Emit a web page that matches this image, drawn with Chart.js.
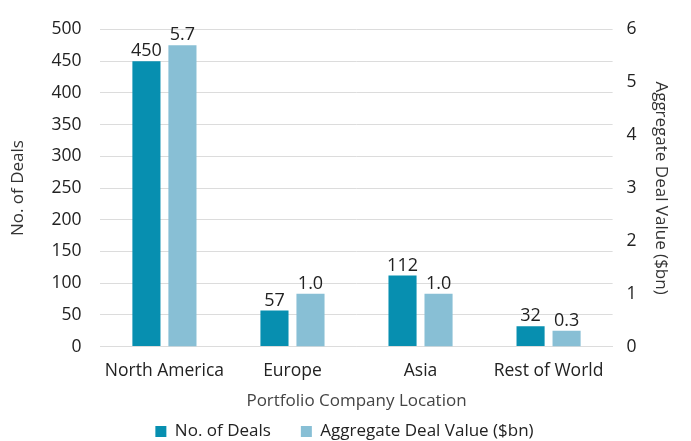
<!DOCTYPE html>
<html>
<head>
<meta charset="utf-8">
<script src="https://cdn.jsdelivr.net/npm/chart.js@4/dist/chart.umd.min.js"></script>
<style>
  html, body { margin: 0; padding: 0; background: #fff; }
  #wrap { width: 691px; height: 441px; }
</style>
</head>
<body>
<div id="wrap"><canvas id="dealChart"></canvas></div>
<script>
const categories = ["North America", "Europe", "Asia", "Rest of World"];
const dealCounts = [450, 57, 112, 32];
const dealValues = [5.7, 1.0, 1.0, 0.3];
const leftTicks = [0, 50, 100, 150, 200, 250, 300, 350, 400, 450, 500];
const rightTicks = [0, 1, 2, 3, 4, 5, 6];

const darkTeal = "#078fb0";
const lightBlue = "#88bfd5";
const textColor = "#222";
const gridColor = "#dcdcdc";

Chart.defaults.font.family = "'Open Sans', sans-serif";
Chart.defaults.font.size = 17.5;
Chart.defaults.color = textColor;

// draw the value above each bar
const barLabels = {
  id: "barLabels",
  afterDatasetsDraw(chart) {
    const ctx = chart.ctx;
    ctx.save();
    ctx.font = "18px 'Open Sans', sans-serif";
    ctx.fillStyle = textColor;
    ctx.textAlign = "center";
    ctx.textBaseline = "bottom";
    chart.data.datasets.forEach((ds, i) => {
      const meta = chart.getDatasetMeta(i);
      meta.data.forEach((bar, j) => {
        const v = ds.data[j];
        const txt = i === 0 ? String(v) : v.toFixed(1);
        ctx.fillText(txt, bar.x, bar.y - 1);
      });
    });
    ctx.restore();
  }
};

new Chart(document.getElementById("dealChart"), {
  type: "bar",
  data: {
    labels: categories,
    datasets: [
      {
        label: "No. of Deals",
        data: dealCounts,
        backgroundColor: darkTeal,
        yAxisID: "y",
        categoryPercentage: 0.5625,
        barPercentage: 0.78
      },
      {
        label: "Aggregate Deal Value ($bn)",
        data: dealValues,
        backgroundColor: lightBlue,
        yAxisID: "y1",
        categoryPercentage: 0.5625,
        barPercentage: 0.78
      }
    ]
  },
  options: {
    responsive: true,
    maintainAspectRatio: false,
    animation: false,
    // legend box keeps a fixed strip below its row, so pull it down a bit
    layout: { padding: { left: 8, right: 10, top: 3, bottom: -9 } },
    plugins: {
      tooltip: { enabled: false },
      legend: {
        position: "bottom",
        labels: {
          boxWidth: 11,
          boxHeight: 11,
          padding: 30,
          font: { size: 17 }
        }
      }
    },
    scales: {
      x: {
        grid: { display: false },
        border: { color: gridColor },
        ticks: { padding: 6, maxRotation: 0, minRotation: 0, autoSkip: false },
        title: {
          display: true,
          text: "Portfolio Company Location",
          font: { size: 17 },
          color: "#444",
          // negative bottom pad lets the wide legend padding overlap the title strip
          padding: { top: 3, bottom: -18 }
        }
      },
      y: {
        position: "left",
        min: 0,
        max: 500,
        afterBuildTicks: axis => { axis.ticks = leftTicks.map(v => ({ value: v })); },
        grid: { color: gridColor, drawTicks: false },
        border: { display: false },
        ticks: { padding: 19 },
        title: {
          display: true,
          text: "No. of Deals",
          font: { size: 17 },
          color: "#333",
          padding: { top: 0, bottom: 4 }
        }
      },
      y1: {
        position: "right",
        min: 0,
        max: 6,
        afterBuildTicks: axis => { axis.ticks = rightTicks.map(v => ({ value: v })); },
        grid: { display: false, drawTicks: false },
        border: { display: false },
        ticks: { padding: 14 },
        title: {
          display: true,
          text: "Aggregate Deal Value ($bn)",
          font: { size: 17 },
          color: "#333",
          padding: { top: 10, bottom: 0 }
        }
      }
    }
  },
  plugins: [barLabels]
});
</script>
</body>
</html>
